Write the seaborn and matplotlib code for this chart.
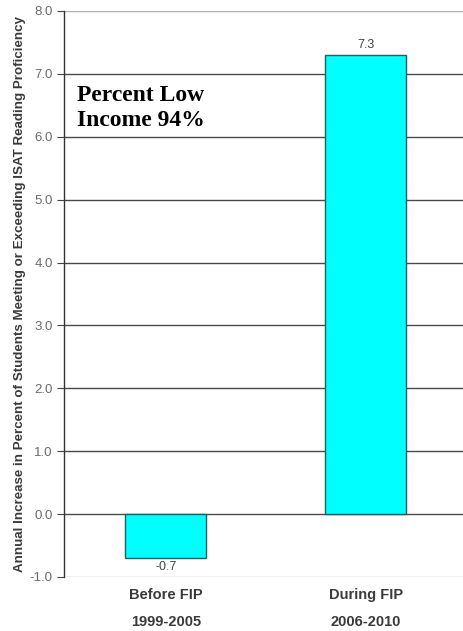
import matplotlib
matplotlib.use("Agg")
import matplotlib.pyplot as plt
import seaborn as sns
import pandas as pd

categories = ["Before FIP\n1999-2005", "During FIP\n2006-2010"]
values = [-0.7, 7.3]
value_labels = ["-0.7", "7.3"]
y_ticks = [-1.0, 0.0, 1.0, 2.0, 3.0, 4.0, 5.0, 6.0, 7.0, 8.0]

df = pd.DataFrame({"period": categories, "increase": values})

sns.set_theme(style="white")
plt.rcParams["font.family"] = ["Liberation Sans", "DejaVu Sans"]

fig = plt.figure(figsize=(4.63, 6.31), dpi=100)
ax = fig.add_axes([0.138, 0.0856, 0.862, 0.897])

sns.barplot(data=df, x="period", y="increase", color="#00FFFF", saturation=1,
            width=0.405, edgecolor="#1f5f5f", linewidth=1.0, ax=ax, zorder=3)

ax.set_ylim(-1.0, 8.0)
ax.set_xlim(-0.51, 1.485)
ax.set_yticks(y_ticks)
ax.set_yticklabels([f"{t:.1f}" for t in y_ticks], color="#6a6a6a", fontsize=9.5)
ax.tick_params(axis="y", left=True, length=5, width=0.8, color="#444444", pad=3)
ax.tick_params(axis="x", bottom=False, pad=2)
for lbl in ax.get_xticklabels():
    lbl.set_fontweight("bold")
    lbl.set_color("#3a3a3a")
    lbl.set_fontsize(10.5)
    lbl.set_linespacing(2.15)

ax.yaxis.grid(True, color="#4a4a4a", linewidth=1.0, zorder=0)
ax.set_axisbelow(True)
# outermost gridlines (axis bounds) are drawn lighter
gridlines = ax.yaxis.get_gridlines()
for gl in (gridlines[0], gridlines[-1]):
    gl.set_color("#b0b0b0")
for side in ["top", "right", "bottom"]:
    ax.spines[side].set_visible(False)
ax.spines["left"].set_color("#333333")
ax.spines["left"].set_linewidth(1.0)

ax.set_xlabel("")
ax.set_ylabel("Annual Increase in Percent of Students Meeting or Exceeding ISAT Reading Proficiency",
              fontsize=9.6, fontweight="bold", color="#3a3a3a", labelpad=3)

# value labels above / below each bar
for i, (v, s) in enumerate(zip(values, value_labels)):
    offset = 0.06 if v >= 0 else -0.04
    ax.text(i, v + offset, s, ha="center", va="bottom" if v >= 0 else "top",
            fontsize=9, color="#444444")

ax.text(0.033, 0.828, "Percent Low\nIncome 94%", transform=ax.transAxes,
        ha="left", va="center", fontsize=17, fontweight="bold",
        family=["Liberation Serif", "DejaVu Serif"], color="black", linespacing=1.25)

fig.savefig("out.png", dpi=100)
